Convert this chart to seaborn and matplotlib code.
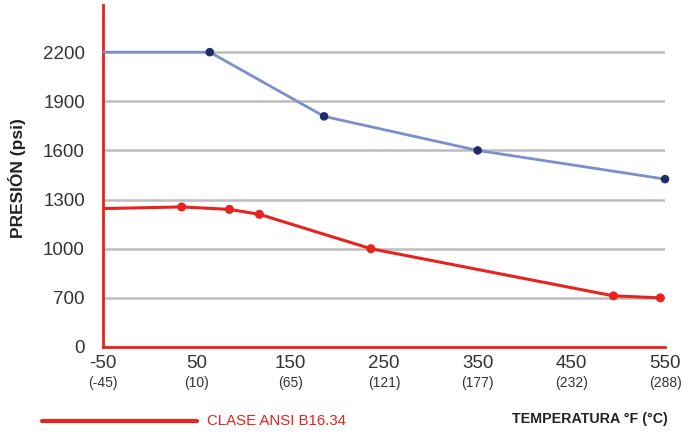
import numpy as np
import pandas as pd
import matplotlib
matplotlib.use('Agg')
import matplotlib.pyplot as plt
import matplotlib.transforms as mtransforms
import seaborn as sns

# temperature (°F) / pressure (psi)
blue_temp = [-50, 64, 186, 350, 550]
blue_pres = [2200, 2200, 1808, 1600, 1425]
red_temp = [-50, 34, 85, 117, 236, 495, 545]
red_pres = [1245, 1255, 1240, 1210, 1000, 712, 700]

x_ticks = [-50, 50, 150, 250, 350, 450, 550]
c_labels = ['(-45)', '(10)', '(65)', '(121)', '(177)', '(232)', '(288)']
y_ticks = [0, 700, 1000, 1300, 1600, 1900, 2200]

blue = pd.DataFrame({'temp': blue_temp, 'pres': blue_pres})
red = pd.DataFrame({'temp': red_temp, 'pres': red_pres})

sns.set_style('white')
plt.rcParams['font.family'] = ['Liberation Sans', 'DejaVu Sans']

# y axis puts the ticks at equal steps, so map them piecewise
knots_v = np.array(y_ticks + [2500], dtype=float)
knots_p = np.array([0, 1, 2, 3, 4, 5, 6, 7], dtype=float)


def fwd(v):
    return np.interp(v, knots_v, knots_p)


def inv(p):
    return np.interp(p, knots_p, knots_v)


fig = plt.figure(figsize=(6.88, 4.34), dpi=100)
ax = fig.add_axes([0.1497, 0.2005, 0.8169, 0.788])
ax.set_yscale('function', functions=(fwd, inv))

sns.lineplot(data=blue, x='temp', y='pres', ax=ax, color='#7b8fcc', linewidth=2, zorder=3)
sns.scatterplot(data=blue.iloc[1:], x='temp', y='pres', ax=ax, color='#1f2d6b', s=38,
                edgecolor='none', zorder=4, clip_on=False)
sns.lineplot(data=red, x='temp', y='pres', ax=ax, color='#e8231e', linewidth=2.2, zorder=3)
sns.scatterplot(data=red.iloc[1:], x='temp', y='pres', ax=ax, color='#e8231e', s=42,
                edgecolor='none', zorder=4, clip_on=False)

ax.set_xlim(-50, 550)
ax.set_ylim(0, 2488)
ax.set_yticks(y_ticks)
ax.set_yticklabels([str(v) for v in y_ticks], fontsize=13.5, color='#333333')
ax.set_xticks(x_ticks)
ax.set_xticklabels([str(v) for v in x_ticks], fontsize=13.5, color='#333333')
ax.tick_params(axis='both', length=0)
ax.tick_params(axis='y', pad=13)
ax.tick_params(axis='x', pad=6)

for v in y_ticks[1:]:
    ax.axhline(v, color='#bdbdbd', linewidth=1.8, zorder=1)

for side in ['top', 'right']:
    ax.spines[side].set_visible(False)
for side in ['left', 'bottom']:
    ax.spines[side].set_color('#e8231e')
    ax.spines[side].set_linewidth(2)

trans = mtransforms.blended_transform_factory(ax.transData, fig.transFigure)
for t, lab in zip(x_ticks, c_labels):
    ax.text(t, 1 - 383 / 434, lab, transform=trans, ha='center', va='center',
            fontsize=10, color='#333333')

ax.set_xlabel('')
ax.set_ylabel('PRESIÓN (psi)', fontsize=12.5, fontweight='bold', color='#222222',
              va='center')
ax.yaxis.set_label_coords(17 / 688, 1 - 178 / 434, transform=fig.transFigure)

fig.add_artist(plt.Line2D([42 / 688, 197 / 688], [1 - 421 / 434] * 2, color='#e8231e',
                          linewidth=3, transform=fig.transFigure))
fig.text(207 / 688, 1 - 421 / 434, 'CLASE ANSI B16.34', color='#e8231e', fontsize=10.8,
         ha='left', va='center')
fig.text(668 / 688, 1 - 419 / 434, 'TEMPERATURA °F (°C)', color='#222222', fontsize=10.3,
         fontweight='bold', ha='right', va='center')

fig.savefig('out.png', dpi=100)
